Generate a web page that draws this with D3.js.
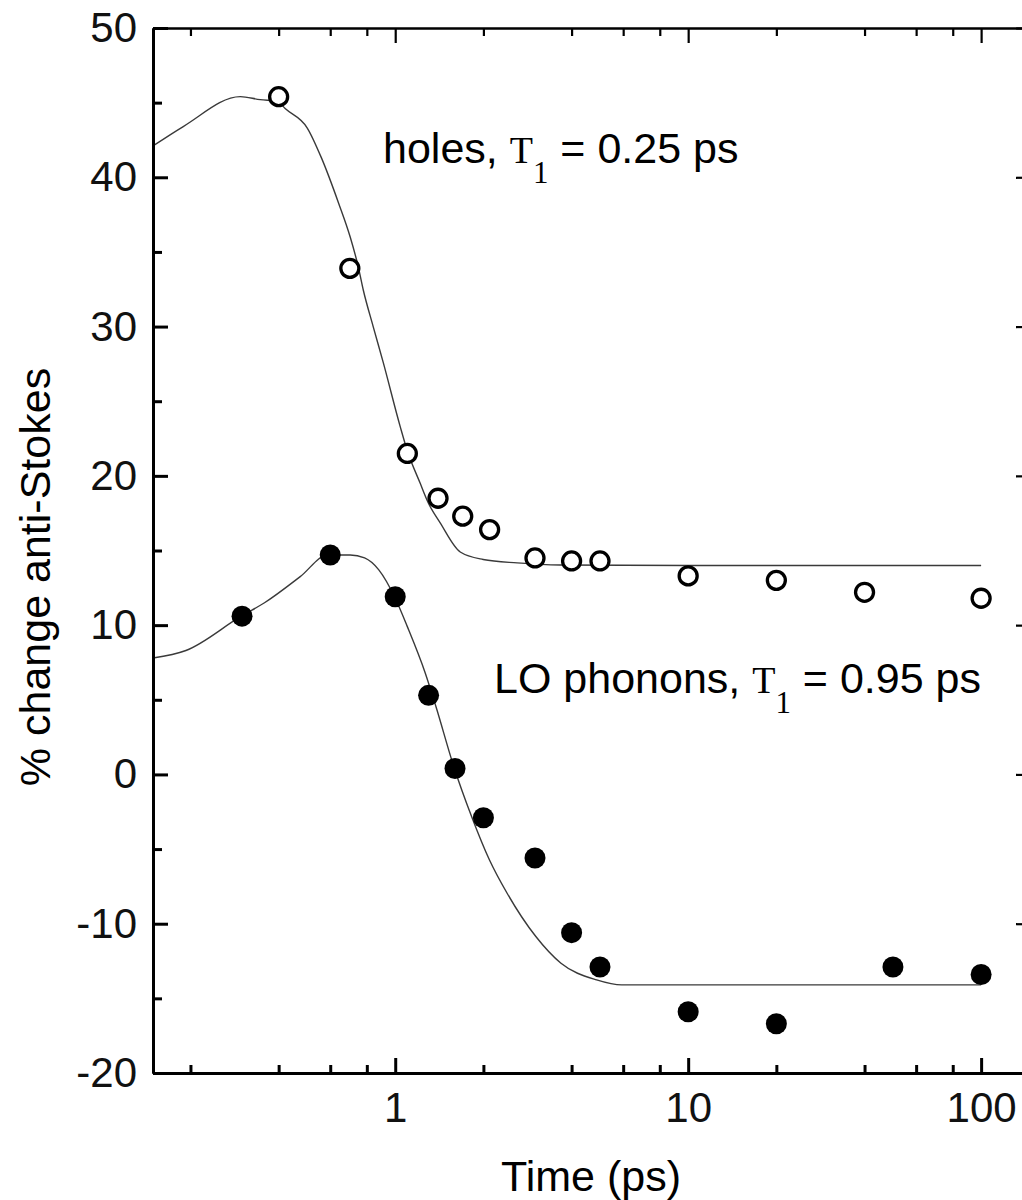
<!DOCTYPE html>
<html>
<head>
<meta charset="utf-8">
<script src="https://cdn.jsdelivr.net/npm/d3@7"></script>
<style>
    body { margin: 0; background: #ffffff; }
    svg text { font-family: "Liberation Sans", Arial, sans-serif; fill: #000; }
</style>
</head>
<body>
<svg id="chart" width="1022" height="1200"></svg>
<script>
// measured points (open circles = holes, filled = LO phonons)
const holesTime = [0.4, 0.7, 1.1, 1.4, 1.7, 2.1, 3, 4, 5, 10, 20, 40, 100];
const holesChange = [45.4, 33.9, 21.5, 18.5, 17.3, 16.4, 14.5, 14.3, 14.3, 13.3, 13.0, 12.2, 11.8];

const phononTime = [0.3, 0.6, 1, 1.3, 1.6, 2, 3, 4, 5, 10, 20, 50, 100];
const phononChange = [10.6, 14.7, 11.9, 5.3, 0.4, -2.9, -5.6, -10.6, -12.9, -15.9, -16.7, -12.9, -13.4];

// fitted curves
const holesFitTime = [0.149, 0.189, 0.296, 0.346, 0.396, 0.421, 0.501, 0.560, 0.640, 0.702, 0.748, 0.778,
    0.841, 0.910, 1.04, 1.099, 1.217, 1.296, 1.424, 1.667, 1.996, 2.608, 3.66, 10, 100];
const holesFitChange = [42.1, 43.4, 45.4, 45.2, 45.1, 44.6, 43.3, 41.3, 38.3, 36.0, 34.0, 32.45,
    30.0, 27.6, 23.3, 21.7, 19.5, 18.2, 16.85, 14.9, 14.4, 14.17, 14.03, 14.0, 14.0];

const phononFitTime = [0.149, 0.193, 0.298, 0.358, 0.474, 0.588, 0.702, 0.786, 0.879, 1.0, 1.10, 1.266,
    1.377, 1.585, 1.824, 2.098, 2.41, 3.02, 3.68, 4.87, 5.93, 10, 100];
const phononFitChange = [7.8, 8.3, 10.6, 11.5, 13.25, 14.7, 14.7, 14.5, 13.7, 11.8, 9.9, 6.8,
    4.55, 0.52, -2.83, -5.73, -7.96, -10.86, -12.65, -13.76, -14.1, -14.1, -14.1];

const xMajor = [1, 10, 100];
const xMinor = [0.2, 0.4, 0.6, 0.8, 2, 4, 6, 8, 20, 40, 60, 80];
const yMajor = [-20, -10, 0, 10, 20, 30, 40, 50];
const yMinor = [-15, -5, 5, 15, 25, 35, 45];

const drawChart = function (svg) {
    let margin = {top: 28, bottom: 1073, left: 153, right: 1031};

    let xScale = d3.scaleLog()
        .domain([0.149, 148])
        .range([margin.left, margin.right]);
    let yScale = d3.scaleLinear()
        .domain([-20, 50])
        .range([margin.bottom, margin.top]);

    // fitted lines
    let line = d3.line()
        .x(d => xScale(d[0]))
        .y(d => yScale(d[1]))
        .curve(d3.curveMonotoneX);

    [[holesFitTime, holesFitChange], [phononFitTime, phononFitChange]].forEach(([t, v]) => {
        svg.append("path")
            .datum(t.map((d, i) => [d, v[i]]))
            .attr("d", line)
            .style("fill", "none")
            .style("stroke", "#3a3a3a")
            .style("stroke-width", 1.4);
    });

    // points
    holesTime.forEach((t, i) => {
        svg.append("circle")
            .attr("cx", xScale(t))
            .attr("cy", yScale(holesChange[i]))
            .attr("r", 9)
            .style("fill", "#ffffff")
            .style("stroke", "#000")
            .style("stroke-width", 3.3);
    });
    phononTime.forEach((t, i) => {
        svg.append("circle")
            .attr("cx", xScale(t))
            .attr("cy", yScale(phononChange[i]))
            .attr("r", 10.5)
            .style("fill", "#000");
    });

    // axes: major ticks with labels, minor ticks without
    let plain = d => String(d);
    let bottomAxis = d3.axisBottom(xScale).tickValues(xMajor).tickFormat(plain)
        .tickSize(-15).tickSizeOuter(0).tickPadding(19);
    let bottomMinor = d3.axisBottom(xScale).tickValues(xMinor).tickFormat("").tickSize(-8).tickSizeOuter(0);
    let topAxis = d3.axisTop(xScale).tickValues(xMajor).tickFormat("").tickSize(-15).tickSizeOuter(0);
    let topMinor = d3.axisTop(xScale).tickValues(xMinor).tickFormat("").tickSize(-8).tickSizeOuter(0);
    let leftAxis = d3.axisLeft(yScale).tickValues(yMajor).tickFormat(plain)
        .tickSize(-15).tickSizeOuter(0).tickPadding(16);
    let leftMinor = d3.axisLeft(yScale).tickValues(yMinor).tickFormat("").tickSize(-9).tickSizeOuter(0);
    let rightAxis = d3.axisRight(yScale).tickValues(yMajor).tickFormat("").tickSize(-15).tickSizeOuter(0);
    let rightMinor = d3.axisRight(yScale).tickValues(yMinor).tickFormat("").tickSize(-9).tickSizeOuter(0);

    let axes = [
        [bottomAxis, `translate(0, ${margin.bottom})`, 3],
        [bottomMinor, `translate(0, ${margin.bottom})`, 3],
        [topAxis, `translate(0, ${margin.top})`, 2.2],
        [topMinor, `translate(0, ${margin.top})`, 2.2],
        [leftAxis, `translate(${margin.left}, 0)`, 3],
        [leftMinor, `translate(${margin.left}, 0)`, 3],
        [rightAxis, `translate(${margin.right}, 0)`, 2.2],
        [rightMinor, `translate(${margin.right}, 0)`, 2.2]
    ];
    axes.forEach(([axis, tr, w]) => {
        let g = svg.append("g")
            .attr("transform", tr)
            .call(axis);
        g.selectAll("path, line")
            .style("stroke", "#000")
            .style("stroke-width", w);
        g.selectAll("text")
            .style("font-size", "42px")
            .style("fill", "#111");
    });

    // axis titles
    svg.append("text")
        .attr("x", 591)
        .attr("y", 1191)
        .attr("text-anchor", "middle")
        .style("font-size", "43px")
        .text("Time (ps)");

    svg.append("text")
        .attr("transform", "translate(50, 577) rotate(-90)")
        .attr("text-anchor", "middle")
        .style("font-size", "43px")
        .text("% change anti-Stokes");

    // annotations
    const label = function (x, y, name, value) {
        let t = svg.append("text")
            .attr("x", x)
            .attr("y", y)
            .style("font-size", "43px");
        t.append("tspan").text(name + ", ");
        t.append("tspan")
            .style("font-family", "'Liberation Serif', 'Times New Roman', serif")
            .style("font-size", "38px")
            .text("T");
        t.append("tspan")
            .attr("dy", 20)
            .style("font-family", "'Liberation Serif', 'Times New Roman', serif")
            .style("font-size", "31px")
            .text("1");
        t.append("tspan")
            .attr("dy", -20)
            .text(" = " + value + " ps");
    };
    label(383, 163, "holes", "0.25");
    label(494, 693, "LO phonons", "0.95");
};

drawChart(d3.select("svg#chart"));
</script>
</body>
</html>
